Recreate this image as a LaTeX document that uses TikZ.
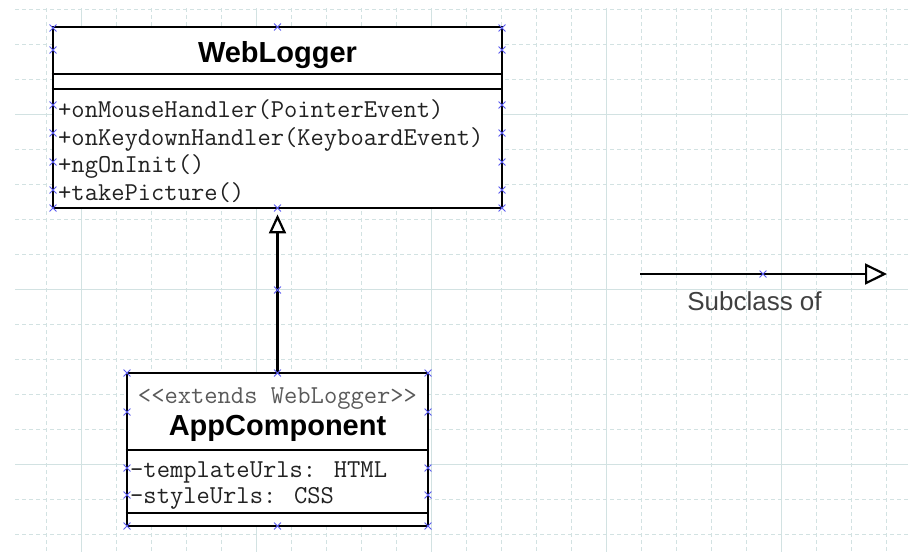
\documentclass[tikz,border=0pt]{standalone}
\usepackage{fontspec}
\setmainfont{Liberation Sans}
\usetikzlibrary{arrows.meta}
\definecolor{gridc}{HTML}{D2E2E2}
\definecolor{markc}{HTML}{5A5AF0}
\definecolor{membc}{HTML}{222222}
\definecolor{stereoc}{HTML}{5A5A5A}
\definecolor{labelc}{HTML}{404040}
\tikzset{
  griddash/.style={gridc, line width=0.9pt, dash pattern=on 4pt off 3pt},
  gridsolid/.style={gridc, line width=1pt},
  classbox/.style={draw=black, fill=white, line width=2.8pt, inner sep=0pt},
  sepline/.style={black, line width=2.8pt},
  classname/.style={font=\fontsize{29}{34}\selectfont\bfseries, inner sep=0pt, anchor=base},
  member/.style={font=\ttfamily\fontsize{25.8}{30}\selectfont, text=membc, inner sep=0pt, anchor=base west},
  stereo/.style={font=\ttfamily\fontsize{25.8}{30}\selectfont, text=stereoc, inner sep=0pt, anchor=base},
  inherit/.style={black, line width=2.8pt, -{Triangle[length=19pt, width=17pt, fill=white, line width=2.2pt]}},
  legendlabel/.style={font=\fontsize{26}{30}\selectfont, text=labelc, inner sep=0pt, anchor=base},
  cpmark/.pic={\draw[markc, line width=1pt] (-3.4,-3.4) -- (3.4,3.4) (-3.4,3.4) -- (3.4,-3.4);}
}
\begin{document}
\begin{tikzpicture}[x=1pt, y=-1pt]
\useasboundingbox (0,0) rectangle (908,552);
\fill[white] (0,0) rectangle (908,552);

% background grid
\foreach \gx in {46,116,151,186,221,291,326,361,396,466,501,536,571,641,676,711,746,816,851,886}
  \draw[griddash] (\gx,8) -- (\gx,552);
\foreach \gy in {9,44,79,149,184,219,254,324,359,394,429,499,534}
  \draw[griddash] (15,\gy) -- (908,\gy);
\foreach \gx in {81,256,431,606,781}
  \draw[gridsolid] (\gx,8) -- (\gx,552);
\foreach \gy in {114,289,464}
  \draw[gridsolid] (15,\gy) -- (908,\gy);

% class WebLogger
\node[classbox, minimum width=449pt, minimum height=181pt] (web) at (277.5,117.5) {};
\draw[sepline] (web.west |- 0,74) -- (web.east |- 0,74);
\draw[sepline] (web.west |- 0,89) -- (web.east |- 0,89);
\node[classname] (webname) at (277.5,62) {WebLogger};
\node[member] (wm1) at (58,117) {+onMouseHandler(PointerEvent)};
\node[member] (wm2) at (58,145) {+onKeydownHandler(KeyboardEvent)};
\node[member] (wm3) at (58,172) {+ngOnInit()};
\node[member] (wm4) at (58,200) {+takePicture()};

% class AppComponent
\node[classbox, minimum width=301pt, minimum height=153pt] (app) at (277.5,449.5) {};
\draw[sepline] (app.west |- 0,450) -- (app.east |- 0,450);
\draw[sepline] (app.west |- 0,513) -- (app.east |- 0,513);
\node[stereo] (appstereo) at (277.5,403) {<\kern0pt<extends WebLogger>\kern0pt>};
\node[classname] (appname) at (277.5,435) {AppComponent};
\node[member] (am1) at (130,477) {-templateUrls: HTML};
\node[member] (am2) at (130,503) {-styleUrls: CSS};

% generalisation
\draw[inherit, shorten >=5pt] (app.north) -- (web.south);

% legend
\coordinate (legA) at (640,274);
\coordinate (legB) at (887,274);
\draw[black, line width=2.8pt, -{Triangle[length=22pt, width=21pt, fill=white, line width=2.2pt]}] (legA) -- (legB);
\node[legendlabel] (leglabel) at (754.5,310) {Subclass of};

% connection points
\foreach \py in {28,50,105,133,162,190,208} {
  \pic at (53,\py) {cpmark};
  \pic at (502,\py) {cpmark};
}
\pic at (277.5,27) {cpmark};
\pic at (277.5,208) {cpmark};
\foreach \py in {373,412,468,495,526} {
  \pic at (127,\py) {cpmark};
  \pic at (428,\py) {cpmark};
}
\pic at (277.5,373) {cpmark};
\pic at (277.5,526) {cpmark};
\pic at (277.5,290) {cpmark};
\pic at (763,274) {cpmark};
\end{tikzpicture}
\end{document}
